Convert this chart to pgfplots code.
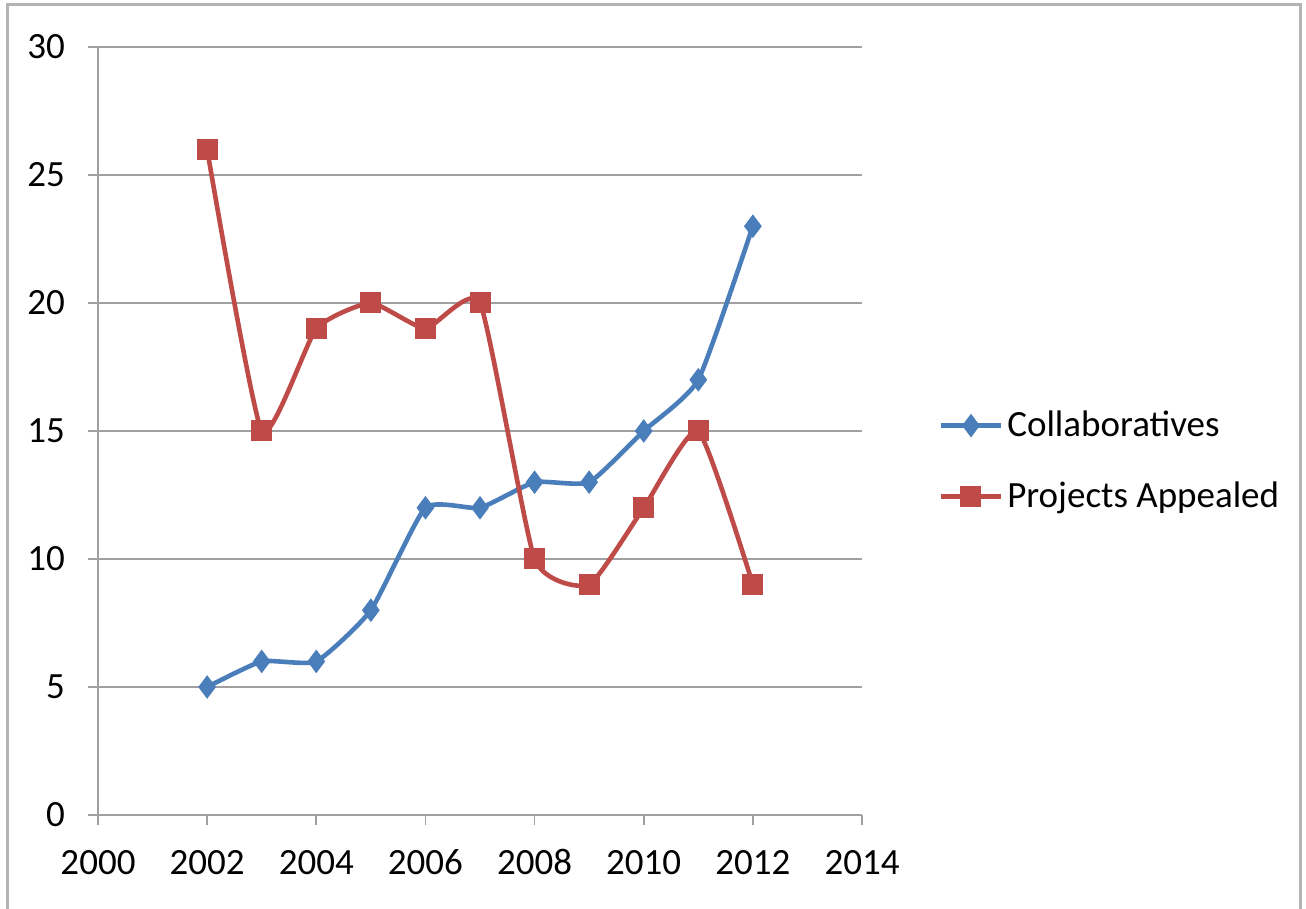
\documentclass[border=0pt]{standalone}
\usepackage{fontspec}
\setmainfont{Carlito}
\usepackage{pgfplots}
\pgfplotsset{compat=1.18}

\definecolor{collab}{HTML}{4A7EBB}
\definecolor{appeal}{HTML}{BE4B48}
\definecolor{gridgray}{HTML}{A0A0A0}

\begin{document}
\begin{tikzpicture}
\useasboundingbox (-49pt,-47pt) rectangle (604pt,407.5pt);
\draw[gridgray!80, line width=1.5pt] (-45pt,-50pt) -- (-45pt,405pt) -- (601pt,405pt) -- (601pt,-50pt);
\begin{axis}[
    at={(0pt,0pt)}, anchor=south west,
    scale only axis,
    width=382pt, height=384pt,
    xmin=2000, xmax=2014, ymin=0, ymax=30,
    xtick={2000,2002,...,2014},
    ytick={0,5,...,30},
    axis x line=bottom, axis y line=left,
    axis line style={gridgray, line width=0.8pt, -},
    ymajorgrids,
    major grid style={gridgray, line width=0.8pt},
    tick style={gridgray, line width=0.8pt},
    major tick length=5pt,
    xtick pos=bottom, ytick pos=left,
    tick align=outside,
    xticklabel style={yshift=-8pt, text height=13pt, text depth=0pt},
    yticklabel style={xshift=-8pt},
    ticklabel style={font=\fontsize{18.5}{21}\selectfont},
    /pgf/number format/assume math mode=true,
    x tick label style={/pgf/number format/1000 sep={}},
    legend style={at={(1.092,0.461)}, anchor=west, draw=none, fill=none,
        font=\fontsize{18.5}{21}\selectfont, row sep=17pt,
        legend cell align=left},
    legend image code/.code={
        \draw[#1] (0pt,0pt) -- (30pt,0pt);
        \draw[#1, mark repeat=2, mark phase=2] plot coordinates {(0pt,0pt) (15pt,0pt) (30pt,0pt)};
    },
]
\addplot[smooth, tension=0.3, collab, line width=2.3pt, mark=diamond*, mark size=5.5pt,
    mark options={fill=collab, line width=0.5pt}] coordinates {
    (2002,5) (2003,6) (2004,6) (2005,8) (2006,12) (2007,12)
    (2008,13) (2009,13) (2010,15) (2011,17) (2012,23)};
\addlegendentry{Collaboratives}
\addplot[smooth, tension=0.3, appeal, line width=2.3pt, mark=square*, mark size=5pt,
    mark options={fill=appeal, line width=0.5pt}] coordinates {
    (2002,26) (2003,15) (2004,19) (2005,20) (2006,19) (2007,20)
    (2008,10) (2009,9) (2010,12) (2011,15) (2012,9)};
\addlegendentry{Projects Appealed}
\end{axis}
\end{tikzpicture}
\end{document}
